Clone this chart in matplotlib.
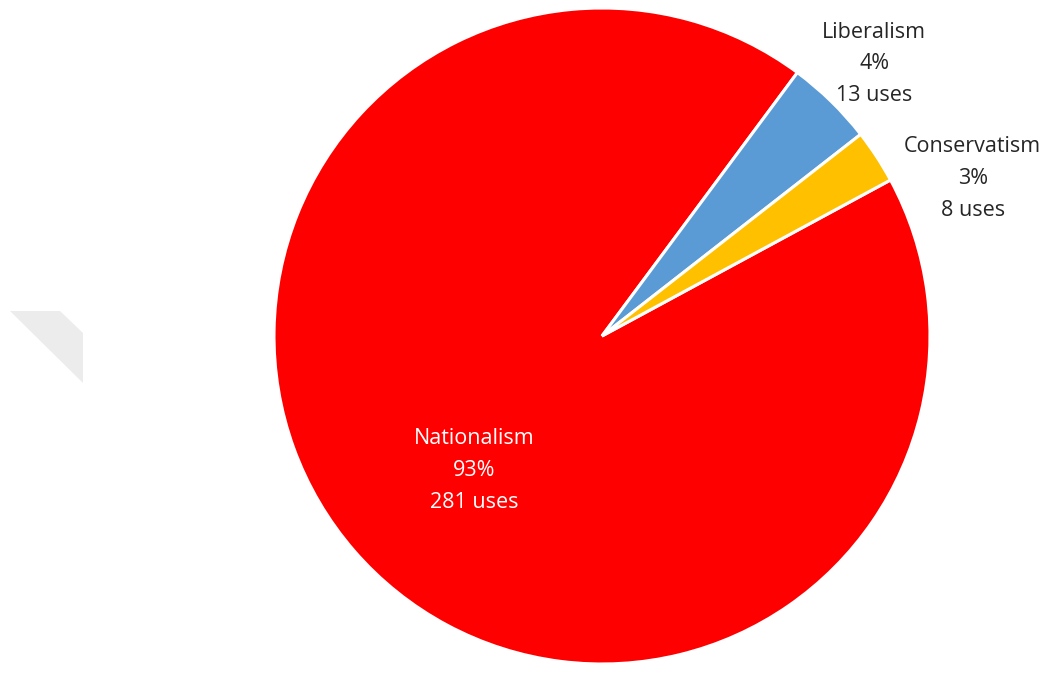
import matplotlib.pyplot as plt
from matplotlib.patches import Polygon

labels = ['Nationalism', 'Liberalism', 'Conservatism']
uses = [281, 13, 8]
colors = ['#FF0000', '#5B9BD5', '#FFC000']
text_colors = ['white', '#262626', '#262626']
# label centres in pie units (radius = 1)
label_pos = [(-0.39, -0.41), (0.83, 0.83), (1.13, 0.48)]

plt.rcParams['font.family'] = ['Open Sans', 'DejaVu Sans']

fig = plt.figure(figsize=(10.51, 6.82), dpi=100)

# faint grey artefact at the left edge
fig.patches.append(Polygon([(10 / 1051, 1 - 311 / 682), (60 / 1051, 1 - 311 / 682),
                            (83 / 1051, 1 - 333 / 682), (83 / 1051, 1 - 383 / 682)],
                           closed=True, transform=fig.transFigure,
                           facecolor='#ececec', edgecolor='none'))

r = 330
ax = fig.add_axes([(602 - r) / 1051, (346 - r) / 682, 2 * r / 1051, 2 * r / 682])
wedges, _ = ax.pie(uses, colors=colors, startangle=28.4, counterclock=False,
                   wedgeprops=dict(edgecolor='white', linewidth=2.2))
lim = r / 328
ax.set_xlim(-lim, lim)
ax.set_ylim(-lim, lim)
ax.set_aspect('equal')
ax.axis('off')

total = sum(uses)
for lab, n, (x, y), c in zip(labels, uses, label_pos, text_colors):
    pct = round(100 * n / total)
    ax.text(x, y, f'{lab}\n{pct}%\n{n} uses', ha='center', va='center',
            fontsize=15.5, color=c, linespacing=1.66)

fig.savefig('out.png', dpi=100)
